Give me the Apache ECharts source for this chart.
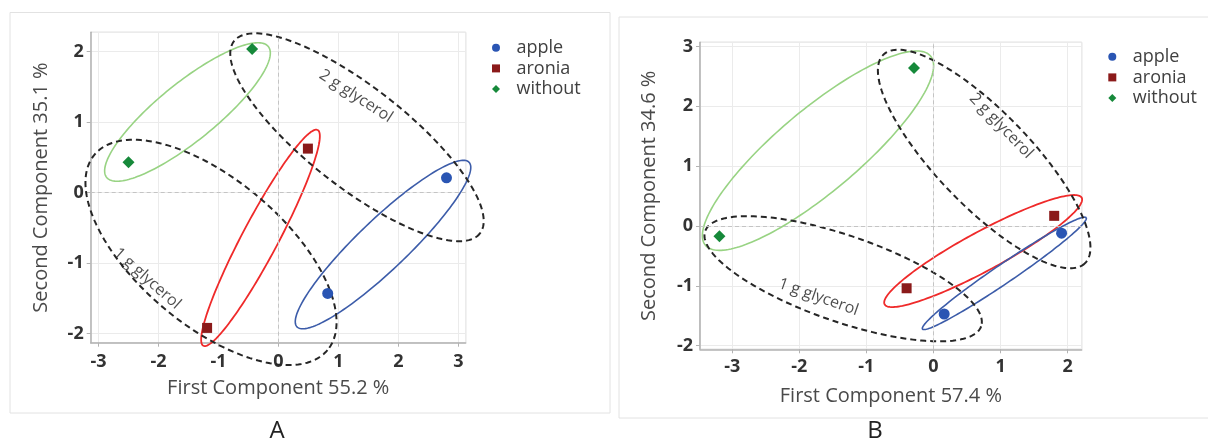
<!DOCTYPE html>
<html>
<head>
<meta charset="utf-8">
<script src="https://cdn.jsdelivr.net/npm/echarts@6/dist/echarts.min.js"></script>
<style>
html,body{margin:0;padding:0;background:#fff;}
#chart{width:1208px;height:442px;}
</style>
</head>
<body>
<div id="chart"></div>
<script>
// ---------- data ----------
const categories = ['apple', 'aronia', 'without'];

// Panel A  (PC1 55.2 %, PC2 35.1 %)
const appleA   = [[2.80, 0.21], [0.82, -1.43]];
const aroniaA  = [[0.49, 0.625], [-1.19, -1.92]];
const withoutA = [[-0.44, 2.04], [-2.50, 0.43]];
const xRangeA = [-3.13, 3.12];
const yRangeA = [-2.13, 2.276];

// Panel B  (PC1 57.4 %, PC2 34.6 %)
const appleB   = [[1.91, -0.12], [0.16, -1.47]];
const aroniaB  = [[1.80, 0.17], [-0.40, -1.04]];
const withoutB = [[-0.29, 2.64], [-3.19, -0.17]];
const xRangeB = [-3.48, 2.21];
const yRangeB = [-2.06, 3.07];

// ellipses: [centerX, centerY, majorHalfX, majorHalfY, minorHalfX, minorHalfY] in data units
const ellWithoutA = [-1.517, 1.145, 1.347, 0.929, 0.304, -0.320];
const ellAroniaA  = [-0.300, -0.642, 0.953, 1.531, 0.265, -0.120];
const ellAppleA   = [1.742, -0.737, 1.434, 1.168, 0.288, -0.257];
const ell2gA      = [1.308, 0.786, 2.049, -1.365, -0.513, -0.560];
const ell1gA      = [-1.125, -0.848, 1.941, -1.388, -0.782, -0.794];

const ellWithoutB = [-1.721, 1.259, 1.678, 1.581, 0.393, -0.525];
const ellAroniaB  = [0.741, -0.418, 1.469, 0.891, 0.138, -0.287];
const ellAppleB   = [1.057, -0.791, 1.220, 0.930, 0.0796, -0.131];
const ell2gB      = [0.756, 1.120, 1.502, -1.743, -0.504, -0.546];
const ell1gB      = [-1.346, -0.881, 2.057, -0.795, -0.2087, -0.680];

// annotation label anchors
const label2gA = [1.29, 1.37];
const label1gA = [-2.19, -1.22];
const label2gB = [1.01, 1.672];
const label1gB = [-1.715, -1.187];

const axisTitlesA = ['First Component 55.2 %', 'Second Component 35.1 %'];
const axisTitlesB = ['First Component 57.4 %', 'Second Component 34.6 %'];
const panelLetters = ['A', 'B'];

// ---------- style ----------
const COL = { apple: '#2a55b3', aronia: '#8b1a1a', without: '#16893a' };
const ELL = { without: '#98d383', aronia: '#ef2a2a', apple: '#3c5ca9', dash: '#262626' };
const FONT = 'Open Sans';

function ellipsePts(e) {
  const [cx, cy, ux, uy, vx, vy] = e;
  const pts = [];
  const N = 180;
  for (let i = 0; i <= N; i++) {
    const t = i / N * 2 * Math.PI;
    pts.push([cx + ux * Math.cos(t) + vx * Math.sin(t), cy + uy * Math.cos(t) + vy * Math.sin(t)]);
  }
  return pts;
}

function ellSeries(e, idx, color, dashed, width) {
  const pts = ellipsePts(e);
  return {
    type: 'custom', coordinateSystem: 'cartesian2d', xAxisIndex: idx, yAxisIndex: idx,
    data: [[e[0], e[1]]], silent: true, z: 2, clip: false,
    renderItem: function (params, api) {
      return {
        type: 'polyline',
        shape: { points: pts.map(function (p) { return api.coord(p); }) },
        style: { stroke: color, lineWidth: width, fill: null, lineDash: dashed ? [6, 4] : null }
      };
    }
  };
}

function labelSeries(pos, idx, text, rot) {
  return {
    type: 'scatter', xAxisIndex: idx, yAxisIndex: idx, data: [pos], symbolSize: 0,
    silent: true, z: 3, clip: false,
    label: { show: true, position: 'inside', formatter: text, rotate: rot,
      fontFamily: FONT, fontSize: 16, color: '#1f1f1f', fontWeight: 'normal' }
  };
}

function scatterSeries(name, data, idx, symbol, size) {
  return {
    name: name, type: 'scatter', xAxisIndex: idx, yAxisIndex: idx, data: data,
    symbol: symbol, symbolSize: size, itemStyle: { color: COL[name], opacity: 1 }, z: 5
  };
}

const tickLabelStyle = { showMinLabel: false, showMaxLabel: false,
  fontFamily: FONT, fontSize: 18, fontWeight: 'bold', color: '#333333' };
const nameStyle = { fontFamily: FONT, fontSize: 20, color: '#4a4a4a' };

function xAxisCfg(idx, range, title, nameGap, margin) {
  return {
    gridIndex: idx, type: 'value', min: range[0], max: range[1], splitNumber: 6,
    name: title, nameLocation: 'middle', nameGap: nameGap, nameTextStyle: nameStyle,
    axisLine: { show: true, onZero: false, lineStyle: { color: '#b3b3b3', width: 1.5 } },
    axisTick: { show: true, length: 4, lineStyle: { color: '#b3b3b3' } },
    axisLabel: Object.assign({ margin: margin }, tickLabelStyle),
    splitLine: { show: true, lineStyle: { color: '#ebebeb', width: 1 } }
  };
}
function yAxisCfg(idx, range, title, nameGap, margin, split) {
  return {
    gridIndex: idx, type: 'value', min: range[0], max: range[1], splitNumber: split,
    name: title, nameLocation: 'middle', nameGap: nameGap, nameTextStyle: nameStyle,
    axisLine: { show: true, onZero: false, lineStyle: { color: '#b3b3b3', width: 1.5 } },
    axisTick: { show: true, length: 4, lineStyle: { color: '#b3b3b3' } },
    axisLabel: Object.assign({ margin: margin }, tickLabelStyle),
    splitLine: { show: true, lineStyle: { color: '#ebebeb', width: 1 } }
  };
}

function zeroLines(idx) {
  return {
    type: 'scatter', xAxisIndex: idx, yAxisIndex: idx, data: [], silent: true, z: 1,
    markLine: {
      silent: true, symbol: 'none', animation: false, label: { show: false },
      lineStyle: { color: '#c4c4c4', type: [4, 3], width: 1 },
      data: [{ xAxis: 0 }, { yAxis: 0 }]
    }
  };
}

function legendCfg(left, top) {
  return {
    orient: 'vertical', left: left, top: top, padding: 0, itemGap: 2.7,
    itemWidth: 8, itemHeight: 8,
    textStyle: { fontFamily: FONT, fontSize: 18, color: '#404040', padding: [0, 0, 0, 11.5] },
    data: [
      { name: 'apple', icon: 'circle', itemStyle: { color: COL.apple } },
      { name: 'aronia', icon: 'rect', itemStyle: { color: COL.aronia } },
      { name: 'without', icon: 'diamond', itemStyle: { color: COL.without } }
    ]
  };
}

const chart = echarts.init(document.getElementById('chart'), null, { renderer: 'canvas' });

const option = {
  animation: false,
  backgroundColor: '#ffffff',
  graphic: [
    { type: 'rect', shape: { x: 10, y: 12.5, width: 600, height: 400.5 }, style: { fill: 'none', stroke: '#e2e2e2', lineWidth: 1 }, silent: true },
    { type: 'rect', shape: { x: 619, y: 17, width: 600, height: 401 }, style: { fill: 'none', stroke: '#e2e2e2', lineWidth: 1 }, silent: true },
    { type: 'text', x: 277, y: 431.5, style: { text: panelLetters[0], fontFamily: FONT, fontSize: 24, fill: '#222', align: 'center', verticalAlign: 'middle' }, silent: true },
    { type: 'text', x: 875, y: 431, style: { text: panelLetters[1], fontFamily: FONT, fontSize: 24, fill: '#222', align: 'center', verticalAlign: 'middle' }, silent: true }
  ],
  grid: [
    { left: 90.7, top: 32.3, width: 375, height: 310.4, show: true, borderColor: '#b8b8b8', borderWidth: 1, containLabel: false },
    { left: 700, top: 42.3, width: 381.7, height: 307, show: true, borderColor: '#b8b8b8', borderWidth: 1, containLabel: false }
  ],
  xAxis: [
    xAxisCfg(0, xRangeA, axisTitlesA[0], 35.5, 10),
    xAxisCfg(1, xRangeB, axisTitlesB[0], 36.7, 8.5)
  ],
  yAxis: [
    yAxisCfg(0, yRangeA, axisTitlesA[1], 39, 7, 4),
    yAxisCfg(1, yRangeB, axisTitlesB[1], 40.7, 7, 5)
  ],
  legend: [legendCfg(492, 38.7), legendCfg(1108.3, 47.7)],
  series: [
    zeroLines(0), zeroLines(1),
    ellSeries(ellWithoutA, 0, ELL.without, false, 1.6),
    ellSeries(ellAroniaA, 0, ELL.aronia, false, 1.8),
    ellSeries(ellAppleA, 0, ELL.apple, false, 1.6),
    ellSeries(ell2gA, 0, ELL.dash, true, 2),
    ellSeries(ell1gA, 0, ELL.dash, true, 2),
    ellSeries(ellWithoutB, 1, ELL.without, false, 1.6),
    ellSeries(ellAroniaB, 1, ELL.aronia, false, 1.8),
    ellSeries(ellAppleB, 1, ELL.apple, false, 1.6),
    ellSeries(ell2gB, 1, ELL.dash, true, 2),
    ellSeries(ell1gB, 1, ELL.dash, true, 2),
    labelSeries(label2gA, 0, '2 g glycerol', -33),
    labelSeries(label1gA, 0, '1 g glycerol', -41.5),
    labelSeries(label2gB, 1, '2 g glycerol', -46),
    labelSeries(label1gB, 1, '1 g glycerol', -19.4),
    scatterSeries('apple', appleA, 0, 'circle', 11),
    scatterSeries('aronia', aroniaA, 0, 'rect', 10),
    scatterSeries('without', withoutA, 0, 'diamond', 12),
    scatterSeries('apple', appleB, 1, 'circle', 11),
    scatterSeries('aronia', aroniaB, 1, 'rect', 10),
    scatterSeries('without', withoutB, 1, 'diamond', 12)
  ]
};
chart.setOption(option);
</script>
</body>
</html>
